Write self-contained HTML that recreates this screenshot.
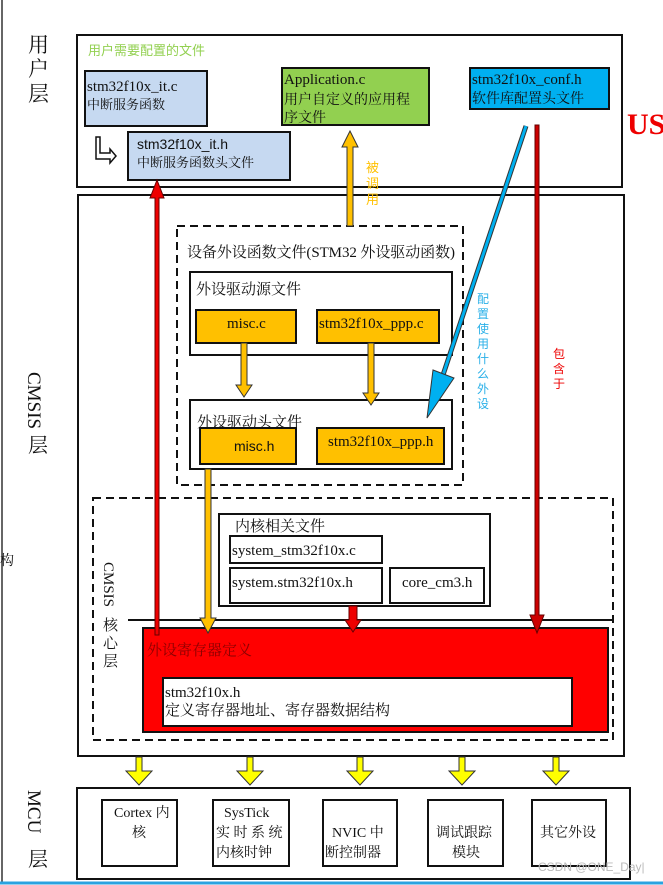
<!DOCTYPE html>
<html><head><meta charset="utf-8"><style>
html,body{margin:0;padding:0;background:#fff;}
svg{display:block;}
text{font-family:"Liberation Serif","Noto Serif CJK SC",serif;font-size:13px;fill:#111;}
.s{font-family:"Liberation Sans","Noto Sans CJK SC",sans-serif;}
.l{font-size:15px;}
</style></head><body>
<svg width="663" height="885" viewBox="0 0 663 885" xmlns="http://www.w3.org/2000/svg">
<rect width="663" height="885" fill="#fff"/>
<line x1="2" y1="0" x2="2" y2="882" stroke="#333" stroke-width="1.5"/>
<line x1="0" y1="883" x2="663" y2="883" stroke="#2aa3e0" stroke-width="3"/>

<text x="28" y="52" style="font-size:21px">用</text>
<text x="28" y="76" style="font-size:21px">户</text>
<text x="28" y="101" style="font-size:21px">层</text>
<text transform="translate(28,372) rotate(90)" style="font-size:19px">CMSIS</text>
<text x="28" y="452" style="font-size:20px">层</text>
<text x="0" y="565" style="font-size:14px">构</text>
<text transform="translate(28,790) rotate(90)" style="font-size:19px">MCU</text>
<text x="28" y="866" style="font-size:20px">层</text>

<rect x="77" y="35" width="545" height="152" fill="#fff" stroke="#111" stroke-width="2"/>
<text x="88" y="55" class="s" style="fill:#92d050;font-size:13px">用户需要配置的文件</text>
<rect x="85" y="71" width="122" height="55" fill="#c6d9f1" stroke="#111" stroke-width="2"/>
<text x="87" y="91" class="l">stm32f10x_it.c</text>
<text x="87" y="109">中断服务函数</text>
<rect x="128" y="132" width="162" height="48" fill="#c6d9f1" stroke="#111" stroke-width="2"/>
<text x="137" y="149" class="s" style="font-size:14px">stm32f10x_it.h</text>
<text x="137" y="167">中断服务函数头文件</text>
<path d="M100 137 v16 h10 v-4 l6 7 l-6 7 v-4 h-14 v-22 z" fill="#fff" stroke="#111" stroke-width="1.5"/>
<rect x="282" y="68" width="147" height="57" fill="#92d050" stroke="#111" stroke-width="2"/>
<text x="284" y="84" class="l">Application.c</text>
<text x="284" y="104" style="font-size:14px">用户自定义的应用程</text>
<text x="284" y="122" style="font-size:14px">序文件</text>
<rect x="470" y="68" width="139" height="41" fill="#00b0f0" stroke="#111" stroke-width="2"/>
<text x="472" y="84" class="l">stm32f10x_conf.h</text>
<text x="472" y="103" style="font-size:14px">软件库配置头文件</text>
<text x="627" y="134" style="fill:#e00;font-size:30px;font-weight:bold">US</text>

<rect x="78" y="195" width="546" height="561" fill="#fff" stroke="#111" stroke-width="2"/>

<rect x="177" y="226" width="286" height="259" fill="none" stroke="#111" stroke-width="2" stroke-dasharray="8,5"/>
<text x="187" y="257" style="font-size:15px" textLength="268">设备外设函数文件(STM32 外设驱动函数)</text>
<rect x="190" y="272" width="262" height="83" fill="#fff" stroke="#111" stroke-width="2"/>
<text x="196" y="294" style="font-size:15px">外设驱动源文件</text>
<rect x="196" y="310" width="100" height="33" fill="#ffc000" stroke="#111" stroke-width="2"/>
<text x="227" y="328" class="l">misc.c</text>
<rect x="317" y="310" width="122" height="33" fill="#ffc000" stroke="#111" stroke-width="2"/>
<text x="319" y="328" class="l">stm32f10x_ppp.c</text>
<rect x="190" y="400" width="262" height="69" fill="#fff" stroke="#111" stroke-width="2"/>
<text x="197" y="427" style="font-size:15px">外设驱动头文件</text>
<rect x="200" y="428" width="96" height="36" fill="#ffc000" stroke="#111" stroke-width="2"/>
<text x="234" y="451" class="s" style="font-size:14px">misc.h</text>
<rect x="317" y="428" width="127" height="36" fill="#ffc000" stroke="#111" stroke-width="2"/>
<text x="328" y="446" class="l">stm32f10x_ppp.h</text>

<rect x="93" y="498" width="520" height="242" fill="none" stroke="#111" stroke-width="2" stroke-dasharray="8,5"/>
<line x1="128" y1="620" x2="613" y2="620" stroke="#111" stroke-width="2"/>
<text transform="translate(104,562) rotate(90)" style="font-size:15px">CMSIS</text>
<text x="103" y="630" style="font-size:15px">核</text>
<text x="103" y="648" style="font-size:15px">心</text>
<text x="103" y="666" style="font-size:15px">层</text>
<rect x="219" y="514" width="271" height="92" fill="#fff" stroke="#111" stroke-width="2"/>
<text x="235" y="531" style="font-size:15px">内核相关文件</text>
<rect x="230" y="536" width="152" height="27" fill="#fff" stroke="#111" stroke-width="2"/>
<text x="232" y="555" class="l">system_stm32f10x.c</text>
<rect x="230" y="568" width="152" height="35" fill="#fff" stroke="#111" stroke-width="2"/>
<text x="232" y="587" class="l">system.stm32f10x.h</text>
<rect x="390" y="568" width="94" height="35" fill="#fff" stroke="#111" stroke-width="2"/>
<text x="402" y="587" class="l">core_cm3.h</text>
<rect x="143" y="628" width="465" height="104" fill="#ff0000" stroke="#111" stroke-width="2"/>
<text x="147" y="655" style="fill:#8b0000;font-size:15px">外设寄存器定义</text>
<rect x="163" y="678" width="409" height="48" fill="#fff" stroke="#111" stroke-width="2"/>
<text x="165" y="697" class="l">stm32f10x.h</text>
<text x="165" y="715" style="font-size:15px">定义寄存器地址、寄存器数据结构</text>

<path d="M347 226 V147 h-5 l8 -16 l8 16 h-5 V226 z" fill="#ffc000" stroke="#333" stroke-width="1"/>
<text x="366" y="172" class="s" style="fill:#ffc000;font-size:13px">被</text>
<text x="366" y="188" class="s" style="fill:#ffc000;font-size:13px">调</text>
<text x="366" y="204" class="s" style="fill:#ffc000;font-size:13px">用</text>
<path d="M241 343 V385 h-5 l8 12 l8 -12 h-5 V343 z" fill="#ffc000" stroke="#333" stroke-width="1"/>
<path d="M368 343 V393 h-5 l8 12 l8 -12 h-5 V343 z" fill="#ffc000" stroke="#333" stroke-width="1"/>
<path d="M205 469 V618 h-5 l8 15 l8 -15 h-5 V469 z" fill="#ffc000" stroke="#333" stroke-width="1"/>
<path d="M155 635 V198 h-5 l7 -18 l7 18 h-5 V635 z" fill="#e00" stroke="#600" stroke-width="1"/>
<path d="M535 125 V615 h-5 l7 18 l7 -18 h-5 V125 z" fill="#c00" stroke="#600" stroke-width="1"/>
<text x="553" y="358" class="s" style="fill:#e00;font-size:12px">包</text>
<text x="553" y="373" class="s" style="fill:#e00;font-size:12px">含</text>
<text x="553" y="388" class="s" style="fill:#e00;font-size:12px">于</text>
<path d="M349 606 V620 h-4 l8 12 l8 -12 h-4 V606 z" fill="#e00" stroke="#600" stroke-width="1"/>
<line x1="526" y1="126" x2="442" y2="378" stroke="#333" stroke-width="5"/>
<line x1="526" y1="126" x2="442" y2="378" stroke="#00b0f0" stroke-width="3"/>
<polygon points="427,418 433,370 454,378" fill="#00b0f0" stroke="#333" stroke-width="1"/>
<text x="477" y="303" class="s" style="fill:#2ab0e8;font-size:12px">配</text>
<text x="477" y="318" class="s" style="fill:#2ab0e8;font-size:12px">置</text>
<text x="477" y="333" class="s" style="fill:#2ab0e8;font-size:12px">使</text>
<text x="477" y="348" class="s" style="fill:#2ab0e8;font-size:12px">用</text>
<text x="477" y="363" class="s" style="fill:#2ab0e8;font-size:12px">什</text>
<text x="477" y="378" class="s" style="fill:#2ab0e8;font-size:12px">么</text>
<text x="477" y="393" class="s" style="fill:#2ab0e8;font-size:12px">外</text>
<text x="477" y="408" class="s" style="fill:#2ab0e8;font-size:12px">设</text>

<g fill="#ffff00" stroke="#333" stroke-width="1">
<path d="M136 757 V771 h-10 l13 14 l13 -14 h-10 V757 z"/>
<path d="M247 757 V771 h-10 l13 14 l13 -14 h-10 V757 z"/>
<path d="M357 757 V771 h-10 l13 14 l13 -14 h-10 V757 z"/>
<path d="M459 757 V771 h-10 l13 14 l13 -14 h-10 V757 z"/>
<path d="M553 757 V771 h-10 l13 14 l13 -14 h-10 V757 z"/>
</g>

<rect x="77" y="788" width="553" height="91" fill="#fff" stroke="#111" stroke-width="2"/>
<rect x="102" y="800" width="75" height="66" fill="#fff" stroke="#111" stroke-width="2"/>
<text x="114" y="817" style="font-size:14px">Cortex 内</text><text x="132" y="837" style="font-size:14px">核</text>
<rect x="213" y="800" width="76" height="66" fill="#fff" stroke="#111" stroke-width="2"/>
<text x="224" y="817" style="font-size:14px">SysTick</text><text x="216" y="837" style="font-size:14px">实 时 系 统</text><text x="216" y="857" style="font-size:14px">内核时钟</text>
<rect x="323" y="800" width="74" height="66" fill="#fff" stroke="#111" stroke-width="2"/>
<text x="332" y="837" style="font-size:14px">NVIC  中</text><text x="325" y="857" style="font-size:14px">断控制器</text>
<rect x="428" y="800" width="75" height="66" fill="#fff" stroke="#111" stroke-width="2"/>
<text x="436" y="837" style="font-size:14px">调试跟踪</text><text x="452" y="857" style="font-size:14px">模块</text>
<rect x="532" y="800" width="74" height="66" fill="#fff" stroke="#111" stroke-width="2"/>
<text x="540" y="837" style="font-size:14px">其它外设</text>
<text x="538" y="871" class="s" style="fill:#bbb;font-size:12px">CSDN @ONE_Day|</text>
</svg>
</body></html>
